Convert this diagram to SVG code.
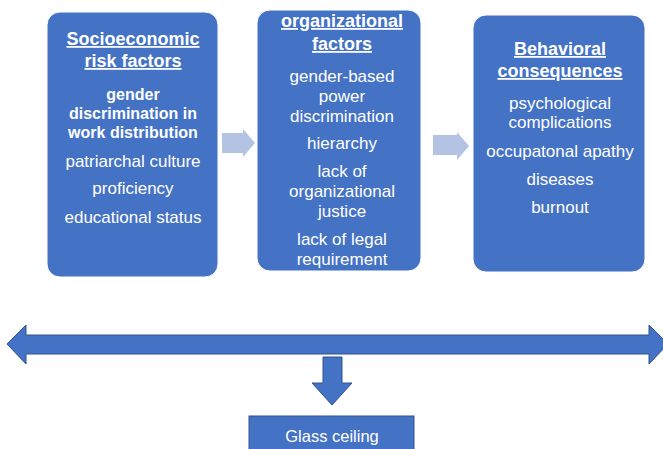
<svg xmlns="http://www.w3.org/2000/svg" width="663" height="449" viewBox="0 0 663 449">
  <style>
    .box { fill: #4472C4; stroke: #ffffff; stroke-width: 1; }
    .t { font-family: "Liberation Sans", Arial, sans-serif; fill: #ffffff; text-anchor: middle; }
    .h { font-size: 18px; font-weight: bold; text-decoration: underline; }
    .b { font-size: 16px; font-weight: bold; }
    .r { font-size: 17px; }
    .light { fill: #B4C2E4; }
    .dark { fill: #4472C4; stroke: #2F528F; stroke-width: 1; }
  </style>
  <rect width="663" height="449" fill="#ffffff"/>

  <g id="socioeconomic">
    <rect class="box" x="47" y="12" width="171" height="265" rx="13"/>
    <text class="t h" x="133" y="45">Socioeconomic</text>
    <text class="t h" x="133" y="67">risk factors</text>
    <text class="t b" x="133" y="100">gender</text>
    <text class="t b" x="133" y="119">discrimination in</text>
    <text class="t b" x="133" y="138">work distribution</text>
    <text class="t r" x="133" y="167">patriarchal culture</text>
    <text class="t r" x="133" y="194">proficiency</text>
    <text class="t r" x="133" y="223">educational status</text>
  </g>

  <g id="organizational">
    <rect class="box" x="257" y="10" width="164" height="261" rx="13"/>
    <text class="t h" x="342" y="27">organizational</text>
    <text class="t h" x="342" y="50">factors</text>
    <text class="t r" x="342" y="82">gender-based</text>
    <text class="t r" x="342" y="102">power</text>
    <text class="t r" x="342" y="122">discrimination</text>
    <text class="t r" x="342" y="149">hierarchy</text>
    <text class="t r" x="342" y="177">lack of</text>
    <text class="t r" x="342" y="197">organizational</text>
    <text class="t r" x="342" y="217">justice</text>
    <text class="t r" x="342" y="245">lack of legal</text>
    <text class="t r" x="342" y="265">requirement</text>
  </g>

  <g id="behavioral">
    <rect class="box" x="473" y="15" width="172" height="257" rx="13"/>
    <text class="t h" x="560" y="55">Behavioral</text>
    <text class="t h" x="560" y="77">consequences</text>
    <text class="t r" x="560" y="109">psychological</text>
    <text class="t r" x="560" y="128">complications</text>
    <text class="t r" x="560" y="157">occupatonal apathy</text>
    <text class="t r" x="560" y="185">diseases</text>
    <text class="t r" x="560" y="213">burnout</text>
  </g>

  <g id="glass-ceiling">
    <rect class="dark" x="249" y="416" width="165" height="40"/>
    <text class="t" x="332" y="442" font-size="16.5">Glass ceiling</text>
  </g>

  <g id="connectors">
    <polygon class="light" points="222,133 243,133 243,129 255,143 243,157 243,153 222,153"/>
    <polygon class="light" points="433,135 457,135 457,132 469,146 457,160 457,155 433,155"/>
    <polygon class="dark" points="7,344 26,325 26,335 649,335 649,325 668,344 649,364 649,354 26,354 26,364"/>
    <polygon class="dark" points="323,357 342,357 342,383 352,383 332,405 312,383 323,383"/>
  </g>
</svg>
